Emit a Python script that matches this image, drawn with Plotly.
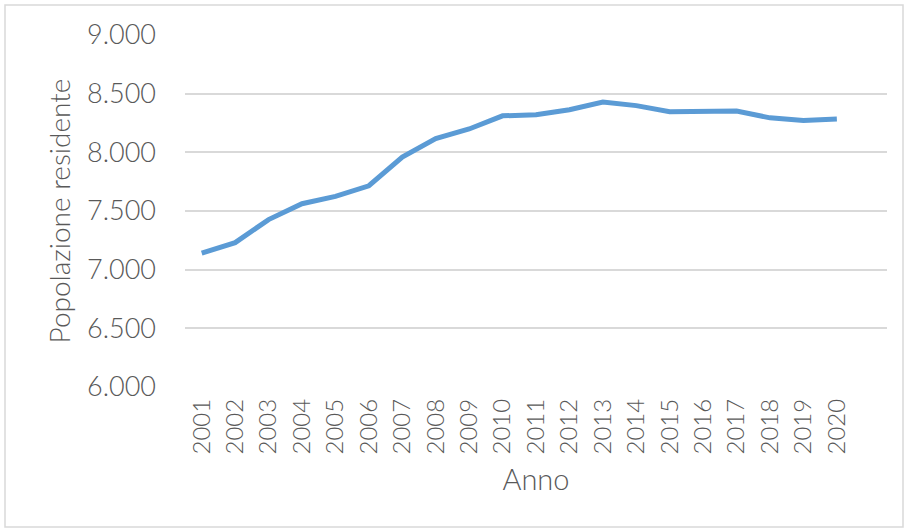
import plotly.graph_objects as go

anni = list(range(2001, 2021))
popolazione = [7140, 7230, 7427, 7562, 7625, 7715, 7960, 8118, 8199, 8311,
               8320, 8363, 8429, 8398, 8346, 8347, 8352, 8294, 8271, 8285]
y_tick_vals = [6000, 6500, 7000, 7500, 8000, 8500, 9000]
y_tick_text = ["6.000", "6.500", "7.000", "7.500", "8.000", "8.500", "9.000"]

FONT = "Lato"
GRAY = "#595959"

fig = go.Figure()
fig.add_trace(go.Scatter(
    x=anni, y=popolazione, mode="lines",
    line=dict(color="#5b9bd5", width=5),
    hoverinfo="x+y", showlegend=False,
))

W, H = 906, 530
L, R, T, B = 185, 19, 35, 143
pw, ph = W - L - R, H - T - B

def px_x(p):
    return (p - L) / pw

def px_y(p):
    return (H - B - p) / ph

fig.update_layout(
    width=W, height=H,
    margin=dict(l=L, r=R, t=T, b=B),
    paper_bgcolor="white", plot_bgcolor="white",
    font=dict(family=FONT, color=GRAY, size=22),
    xaxis=dict(
        range=[2000.5, 2021.5],
        tickvals=anni, ticktext=[str(a) for a in anni],
        tickangle=-90, showgrid=False, zeroline=False,
        showline=False, ticks="",
        ticklabelstandoff=6,
        tickfont=dict(size=24, color=GRAY, family=FONT, weight=300),
        title=dict(text="Anno", font=dict(size=29, color=GRAY, family=FONT, weight=300), standoff=16),
    ),
    yaxis=dict(
        range=[6000, 9000],
        tickvals=y_tick_vals, ticktext=y_tick_text,
        showgrid=True, gridcolor="#d9d9d9", gridwidth=1.5,
        zeroline=False, showline=False, ticks="",
        ticklabelstandoff=28,
        tickfont=dict(size=27, color=GRAY, family=FONT, weight=300),
        title=dict(text="Popolazione residente", font=dict(size=28, color=GRAY, family=FONT, weight=300), standoff=8),
    ),
    shapes=[dict(
        type="rect", xref="paper", yref="paper",
        x0=px_x(5), x1=px_x(903), y0=px_y(527), y1=px_y(5),
        line=dict(color="#d9d9d9", width=1.5), fillcolor="rgba(0,0,0,0)",
        layer="below",
    )],
)

fig.write_html("out.html", config={"displayModeBar": False},
               post_script="document.body.style.margin='0';")
